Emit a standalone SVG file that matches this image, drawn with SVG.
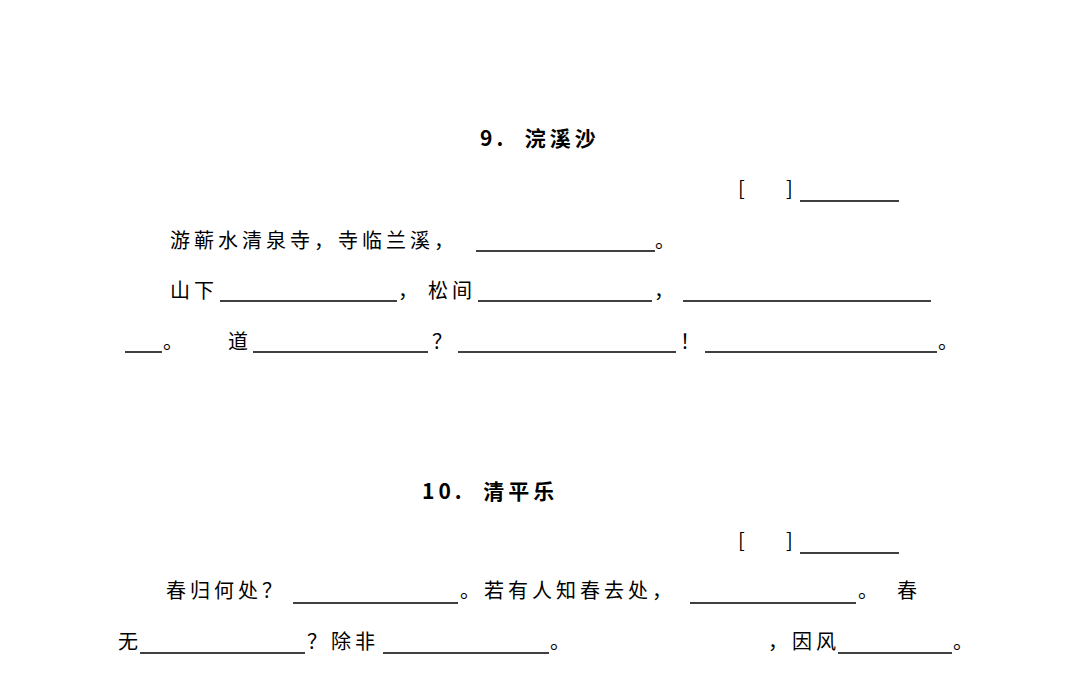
<svg xmlns="http://www.w3.org/2000/svg" width="1080" height="692" viewBox="0 0 1080 692">
<style>
text{font-family:"Noto Sans CJK SC","Liberation Sans",sans-serif;font-size:20px;fill:#000;letter-spacing:4px}
.t{font-weight:bold;font-size:21px}
line{stroke:#000;stroke-width:1.3}
</style>
<rect width="1080" height="692" fill="#fff"/>
<text class="t" x="480" y="146" xml:space="preserve">9.  浣溪沙</text>
<text x="738" y="196">[</text><text x="786" y="196">]</text>
<line x1="800" y1="201" x2="899" y2="201"/>
<text x="170" y="248">游蕲水清泉寺，寺临兰溪，</text>
<line x1="476" y1="251" x2="655" y2="251"/><text x="655" y="248">。</text>
<text x="170" y="298">山下</text>
<line x1="220" y1="301" x2="397" y2="301"/><text x="398" y="298">，</text>
<text x="428" y="298">松间</text>
<line x1="478" y1="301" x2="652" y2="301"/><text x="654" y="298">，</text>
<line x1="683" y1="301" x2="931" y2="301"/>
<line x1="125" y1="352" x2="162" y2="352"/><text x="163" y="349">。</text>
<text x="228" y="349">道</text>
<line x1="253" y1="352" x2="428" y2="352"/><text x="432" y="349">？</text>
<line x1="458" y1="352" x2="676" y2="352"/><text x="680" y="349">！</text>
<line x1="705" y1="352" x2="937" y2="352"/><text x="938" y="349">。</text>
<text class="t" x="422" y="499" xml:space="preserve">10.  清平乐</text>
<text x="738" y="548">[</text><text x="786" y="548">]</text>
<line x1="800" y1="553" x2="899" y2="553"/>
<text x="166" y="598">春归何处？</text>
<line x1="293" y1="603" x2="458" y2="603"/>
<text x="460" y="598">。若有人知春去处，</text>
<line x1="690" y1="603" x2="856" y2="603"/>
<text x="858" y="598">。</text><text x="897" y="598">春</text>
<text x="118" y="649">无</text>
<line x1="140" y1="653" x2="305" y2="653"/>
<text x="307" y="649">？除非</text>
<line x1="383" y1="653" x2="549" y2="653"/><text x="550" y="649">。</text>
<text x="768" y="649">，因风</text>
<line x1="838" y1="653" x2="952" y2="653"/><text x="953" y="649">。</text>
</svg>
